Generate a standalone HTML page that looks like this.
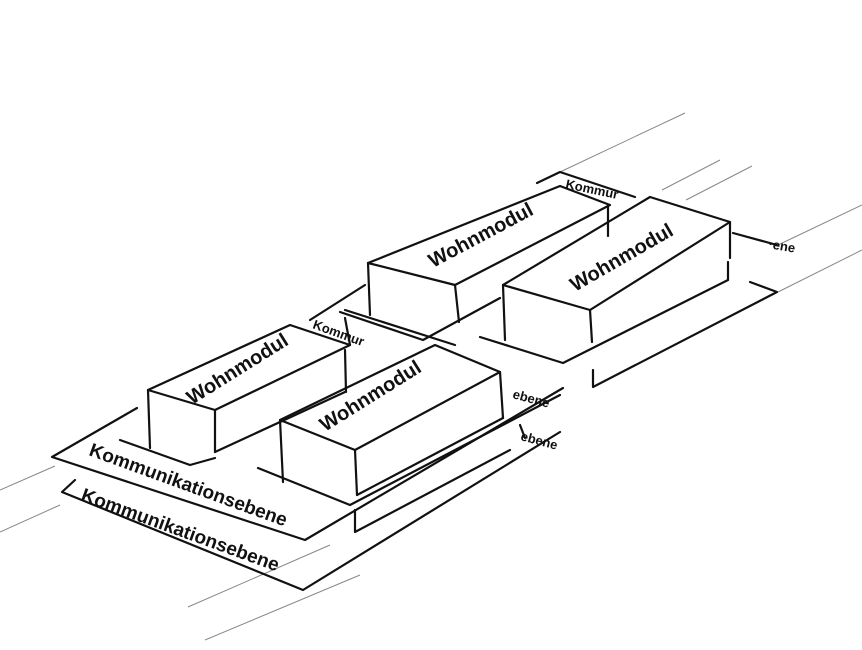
<!DOCTYPE html>
<html><head><style>
html,body{margin:0;padding:0;background:#fff;}
svg{display:block}
text{font-family:"Liberation Sans",sans-serif;font-weight:bold;fill:#111;}
</style></head><body>
<svg width="862" height="650" viewBox="0 0 862 650" xmlns="http://www.w3.org/2000/svg">
<g stroke="#888" stroke-width="1" fill="none">
<line x1="0" y1="490" x2="55" y2="466"/>
<line x1="0" y1="532" x2="60" y2="505"/>
<line x1="560" y1="172" x2="685" y2="113"/>
<line x1="662" y1="190" x2="720" y2="160"/>
<line x1="686" y1="200" x2="752" y2="166"/>
<line x1="778" y1="245" x2="862" y2="205"/>
<line x1="778" y1="292" x2="862" y2="250"/>
<line x1="188" y1="607" x2="330" y2="545"/>
<line x1="205" y1="640" x2="360" y2="575"/>
</g>
<g stroke="#111" stroke-width="2.2" fill="none" stroke-linejoin="round" stroke-linecap="round">
<!-- upper platform -->
<polyline points="137,408 52,457 305,540 563,388"/>
<polyline points="120,440 190,465 215,458"/>
<polyline points="258,468 350,505 560,395"/>
<!-- lower platform -->
<polyline points="75,480 62,492 303,590 560,432"/>
<polyline points="355,510 355,532 510,450"/>
<polyline points="520,425 525,438"/>
<!-- back platform -->
<polyline points="310,320 365,285"/>
<polyline points="340,312 423,340 500,298"/>
<polyline points="537,183 560,172 635,197"/>
<polyline points="480,337 563,363 728,280"/>
<polyline points="728,262 728,280"/>
<polyline points="593,370 593,387 777,292 750,282"/>
<polyline points="733,233 777,245"/>
<polyline points="455,345 345,310"/>
<polyline points="345,318 350,345"/>
<!-- Box A -->
<polygon points="368,263 560,186 610,205 455,285"/>
<line x1="368" y1="263" x2="370" y2="315"/>
<line x1="455" y1="285" x2="459" y2="322"/>
<line x1="608" y1="205" x2="608" y2="236"/>
<!-- Box B -->
<polygon points="503,285 650,197 730,222 590,310"/>
<line x1="503" y1="285" x2="505" y2="340"/>
<line x1="590" y1="310" x2="592" y2="342"/>
<line x1="730" y1="222" x2="730" y2="258"/>
<!-- Box C -->
<polygon points="148,390 290,325 350,345 215,410"/>
<line x1="148" y1="390" x2="150" y2="448"/>
<line x1="215" y1="410" x2="215" y2="452"/>
<line x1="345" y1="350" x2="346" y2="392"/>
<polyline points="215,452 345,392"/>
<!-- Box D -->
<polygon points="280,420 435,345 500,372 355,450"/>
<line x1="280" y1="420" x2="283" y2="482"/>
<line x1="355" y1="450" x2="357" y2="495"/>
<line x1="500" y1="372" x2="503" y2="418"/>
<polyline points="357,495 503,418"/>
</g>
<g font-size="20">
<text transform="translate(433,268) rotate(-28)">Wohnmodul</text>
<text transform="translate(575,292) rotate(-30)">Wohnmodul</text>
<text transform="translate(192,405) rotate(-32)">Wohnmodul</text>
<text transform="translate(325,432) rotate(-32)">Wohnmodul</text>
</g>
<g font-size="19">
<text transform="translate(88,455) rotate(20)">Kommunikationsebene</text>
<text transform="translate(80,500) rotate(20)">Kommunikationsebene</text>
</g>
<g font-size="13">
<text transform="translate(565,188) rotate(12)">Kommur</text>
<text transform="translate(312,328) rotate(20)">Kommur</text>
<text transform="translate(512,398) rotate(15)">ebene</text>
<text transform="translate(520,440) rotate(15)">ebene</text>
<text transform="translate(768,248) rotate(10)">·ene</text>
</g>
</svg>
</body></html>
